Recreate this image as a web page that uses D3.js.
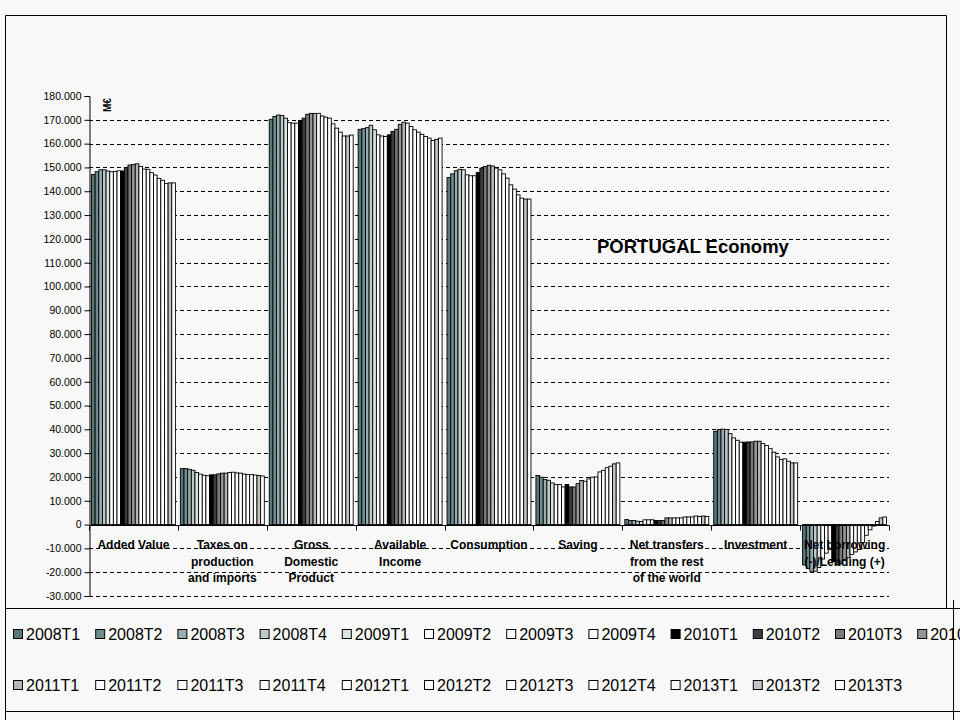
<!DOCTYPE html>
<html>
<head>
<meta charset="utf-8">
<script src="https://cdn.jsdelivr.net/npm/d3@7"></script>
<style>
  html, body { margin: 0; padding: 0; background: #f8f8f8; }
  svg { display: block; }
  text { font-family: Arial, "Liberation Sans", sans-serif; }
</style>
</head>
<body>
<svg id="chart" width="960" height="720"></svg>
<script>
// ---------------- DATA (M€) ----------------
const categories = [
  ["Added Value"],
  ["Taxes on", "production", "and imports"],
  ["Gross", "Domestic", "Product"],
  ["Available", "Income"],
  ["Consumption"],
  ["Saving"],
  ["Net transfers", "from the rest", "of the world"],
  ["Investment"],
  ["Net borrowing", "(-)/Lending (+)"]
];
const seriesNames = ["2008T1","2008T2","2008T3","2008T4","2009T1","2009T2","2009T3","2009T4",
  "2010T1","2010T2","2010T3","2010T4","2011T1","2011T2","2011T3","2011T4",
  "2012T1","2012T2","2012T3","2012T4","2013T1","2013T2","2013T3"];
const seriesColors = ["#597879","#6f8d8e","#98adae","#bccacb","#dde4e4","#ffffff","#ffffff","#ffffff",
  "#000000","#3d3d3d","#7a7a7a","#969696","#b5b5b5","#ffffff","#ffffff","#ffffff",
  "#ffffff","#ffffff","#ffffff","#ffffff","#ffffff","#c4c4c4","#ffffff"];

const addedValue      = [147000,148200,149000,149000,148500,148200,148300,148600,148500,150000,151000,151200,151500,150400,149300,149200,147800,146800,145400,144600,143200,143500,143500];
const taxesOnProduction = [23500,23500,23200,22800,21900,21200,20700,20500,20900,20900,21300,21600,21600,21900,22000,21700,21600,21200,21000,21000,20800,20600,20400];
const grossDomesticProduct = [170200,171400,172000,171800,170700,168800,168600,168600,169700,170700,172300,172700,172700,172700,171600,171100,170700,168300,166500,164800,163200,163200,163600];
const availableIncome = [166000,166300,166700,167700,165800,163700,163200,163000,163700,165100,166000,168100,169000,168600,167200,165800,164800,163900,163000,162300,161300,161800,162300];
const consumption     = [145800,147300,148600,149200,149000,146900,146500,146500,147900,149700,150400,150900,150600,149700,149000,147300,145500,142700,140900,138500,137100,136700,136700];
const saving          = [20600,19900,18900,18600,17500,16800,16800,15800,16800,15800,15800,17200,18500,18200,19200,19900,20000,22100,22800,23900,24500,25500,25900];
const netTransfers    = [2100,1700,1700,1400,1300,2000,2000,2000,1700,1700,1700,2800,2800,2800,2800,2800,3200,3200,3200,3600,3400,3600,3400];
const investment      = [39200,39900,40100,39900,38200,36400,35400,34600,34600,34700,34700,35000,35000,34000,33200,31900,30400,28400,27300,27600,26600,25900,25900];
const netBorrowing    = [-17000,-18500,-19600,-19600,-18000,-14500,-12000,-10500,-15500,-17000,-16500,-15000,-14000,-12500,-11500,-10500,-7500,-4500,-2200,-600,1300,2800,3200];

const yTicks = [180000,170000,160000,150000,140000,130000,120000,110000,100000,90000,80000,70000,
  60000,50000,40000,30000,20000,10000,0,-10000,-20000,-30000];

const valuesByCategory = [addedValue, taxesOnProduction, grossDomesticProduct, availableIncome,
  consumption, saving, netTransfers, investment, netBorrowing];

const title = "PORTUGAL Economy";
const unitLabel = "M€";

// ---------------- LAYOUT ----------------
const svg = d3.select("#chart");
const W = 960, H = 720;
const plot = { left: 89, right: 889, top: 96, bottom: 596 };

svg.append("rect").attr("x", 0).attr("y", 0).attr("width", W).attr("height", H).attr("fill", "#f8f8f8");

const y = d3.scaleLinear().domain([-30000, 180000]).range([plot.bottom, plot.top]);
const x0 = d3.scaleBand().domain(d3.range(categories.length)).range([plot.left, plot.right]).padding(0);
const x1 = d3.scaleBand().domain(seriesNames).range([0, x0.bandwidth()]).paddingInner(0).paddingOuter(0.68);

// frames
const frame = svg.append("g").attr("stroke", "#000").attr("stroke-width", 1).attr("fill", "none");
frame.append("line").attr("x1", 5.5).attr("x2", 946.5).attr("y1", 15.5).attr("y2", 15.5);
frame.append("line").attr("x1", 946.5).attr("x2", 946.5).attr("y1", 15.5).attr("y2", 608.5);
frame.append("line").attr("x1", 5.5).attr("x2", 5.5).attr("y1", 15.5).attr("y2", 720);
frame.append("line").attr("x1", 5.5).attr("x2", 960).attr("y1", 608.5).attr("y2", 608.5);
frame.append("line").attr("x1", 5.5).attr("x2", 960).attr("y1", 711.5).attr("y2", 711.5);
frame.append("line").attr("x1", 953.5).attr("x2", 953.5).attr("y1", 600).attr("y2", 720);

// gridlines
svg.append("g").selectAll("line")
  .data(yTicks.filter(d => d !== 0 && d !== 180000))
  .join("line")
  .attr("x1", plot.left).attr("x2", plot.right)
  .attr("y1", d => Math.round(y(d)) + 0.5).attr("y2", d => Math.round(y(d)) + 0.5)
  .attr("stroke", "#000").attr("stroke-width", 1).attr("stroke-dasharray", "4,3");

// bars
const groups = svg.append("g").selectAll("g")
  .data(valuesByCategory)
  .join("g")
  .attr("transform", (d, i) => `translate(${x0(i)},0)`);

groups.selectAll("rect")
  .data(vals => vals.map((v, j) => ({ v, name: seriesNames[j], color: seriesColors[j] })))
  .join("rect")
  .attr("x", d => x1(d.name))
  .attr("width", x1.bandwidth())
  .attr("y", d => Math.min(y(d.v), y(0)))
  .attr("height", d => Math.abs(y(d.v) - y(0)))
  .attr("fill", d => d.color)
  .attr("stroke", "#000")
  .attr("stroke-width", 0.9);

// y axis
const yAxis = d3.axisLeft(y)
  .tickValues(yTicks)
  .tickSize(5)
  .tickPadding(3)
  .tickFormat(d => d3.format(",")(d).replace(/,/g, ".").replace("−", "-"));
const gy = svg.append("g").attr("transform", `translate(${plot.left + 0.5},0)`).call(yAxis);
gy.select(".domain").attr("stroke", "#000");
gy.selectAll(".tick line").attr("stroke", "#000");
gy.selectAll(".tick text").attr("font-size", "10.5px").attr("fill", "#000")
  .style("font-family", "Arial, 'Liberation Sans', sans-serif");

// x axis at zero
const y0 = Math.round(y(0)) + 0.5;
svg.append("line").attr("x1", plot.left).attr("x2", plot.right).attr("y1", y0).attr("y2", y0)
  .attr("stroke", "#000");
svg.append("g").selectAll("line")
  .data(d3.range(categories.length + 1))
  .join("line")
  .attr("x1", i => Math.round(i < categories.length ? x0(i) : plot.right) + 0.5)
  .attr("x2", i => Math.round(i < categories.length ? x0(i) : plot.right) + 0.5)
  .attr("y1", y0).attr("y2", y0 + 5)
  .attr("stroke", "#000");

// category labels
const lab = svg.append("g").selectAll("text")
  .data(categories)
  .join("text")
  .attr("text-anchor", "middle")
  .attr("font-size", "12px")
  .attr("font-weight", "bold")
  .attr("fill", "#000")
  .attr("x", (d, i) => x0(i) + x0.bandwidth() / 2)
  .attr("y", 549);
lab.selectAll("tspan")
  .data(d => d)
  .join("tspan")
  .attr("x", function() { return d3.select(this.parentNode).attr("x"); })
  .attr("dy", (d, i) => i === 0 ? 0 : 16.5)
  .text(d => d);

// unit label
svg.append("text")
  .attr("transform", "translate(111,112) rotate(-90)")
  .attr("font-size", "10px").attr("font-weight", "bold")
  .text(unitLabel);

// title
svg.append("text")
  .attr("x", 597).attr("y", 253)
  .attr("font-size", "18.5px").attr("font-weight", "bold")
  .text(title);

// legend
const legend = svg.append("g");
const legItems = legend.selectAll("g")
  .data(seriesNames)
  .join("g")
  .attr("transform", (d, i) => `translate(${13 + (i % 12) * 82.2},${i < 12 ? 629 : 680})`);
legItems.append("rect")
  .attr("x", 0.5).attr("y", 0.5).attr("width", 9).attr("height", 9)
  .attr("fill", (d, i) => seriesColors[i]).attr("stroke", "#000").attr("stroke-width", 1);
legItems.append("text")
  .attr("x", 13).attr("y", 11)
  .attr("font-size", "16px").attr("fill", "#000")
  .text(d => d);
</script>
</body>
</html>
